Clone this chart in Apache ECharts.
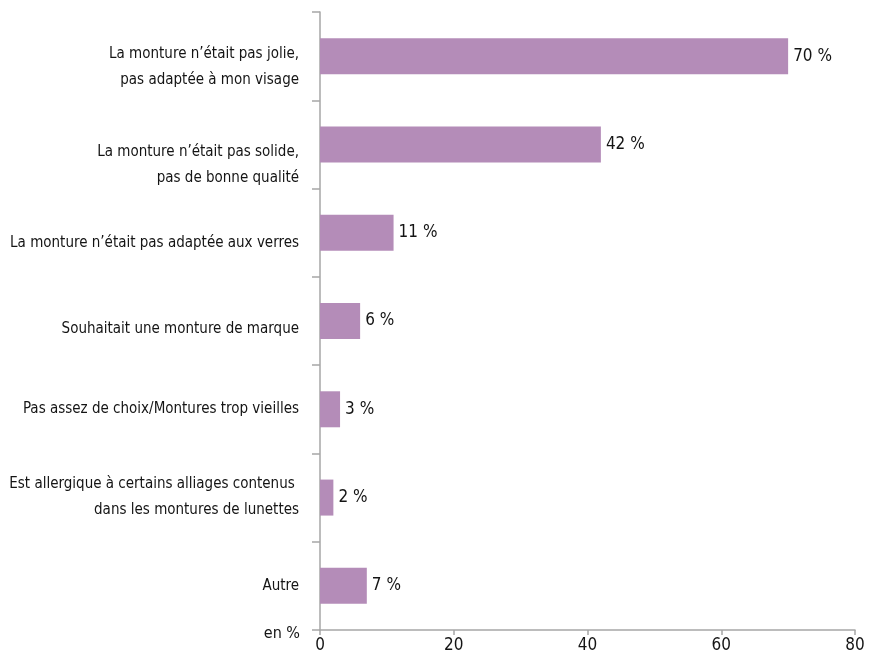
<!DOCTYPE html>
<html>
<head>
<meta charset="utf-8">
<script src="https://cdn.jsdelivr.net/npm/echarts@6/dist/echarts.min.js"></script>
<style>
html,body{margin:0;padding:0;background:#fff;}
#chart{width:877px;height:661px;}
</style>
</head>
<body>
<div id="chart"></div>
<script>
var categories = [
  "La monture n\u2019était pas jolie,\npas adaptée à mon visage",
  "La monture n\u2019était pas solide,\npas de bonne qualité",
  "La monture n\u2019était pas adaptée aux verres",
  "Souhaitait une monture de marque",
  "Pas assez de choix/Montures trop vieilles",
  "Est allergique à certains alliages contenus \ndans les montures de lunettes",
  "Autre"
];
var values = [70, 42, 11, 6, 3, 2, 7];
var xTicks = [0, 20, 40, 60, 80];
var axisName = "en %";

// label vertical nudges in px (style only, matching the reference's label placement)
var labelNudge = [11, 21, 10, 8, 0, 0, 0];

var FONT = "'Liberation Sans Narrow', 'DejaVu Sans Condensed', sans-serif";
var AXIS = '#a6a6a6';
var TXT = '#141414';

var rich = {t: {fontFamily: FONT, fontSize: 15, lineHeight: 26, color: TXT}};
labelNudge.forEach(function (n, i) {
  if (n > 0) rich['g' + i] = {lineHeight: 2 * n, height: 2 * n, fontSize: 2};
});

var chart = echarts.init(document.getElementById('chart'));
chart.setOption({
  animation: false,
  grid: {left: 320, right: 22, top: 12, bottom: 31, containLabel: false, outerBoundsMode: 'none'},
  xAxis: {
    type: 'value', min: xTicks[0], max: xTicks[xTicks.length - 1], interval: xTicks[1] - xTicks[0],
    axisLine: {show: true, lineStyle: {color: AXIS, width: 1.5}},
    axisTick: {show: true, length: 5, lineStyle: {color: AXIS, width: 1.5}},
    splitLine: {show: false},
    axisLabel: {color: TXT, fontFamily: FONT, fontSize: 17, margin: 7}
  },
  yAxis: {
    type: 'category', inverse: true, data: categories,
    name: '{g|}\n{t|' + axisName + '}', nameLocation: 'end', nameGap: 0,
    nameTextStyle: {color: TXT, fontFamily: FONT, fontSize: 16, align: 'right', verticalAlign: 'middle',
      padding: [0, 20, 0, 0],
      rich: {g: {lineHeight: 8, height: 8, fontSize: 2}, t: {fontFamily: FONT, fontSize: 16, lineHeight: 20, color: TXT}}},
    axisLine: {show: true, lineStyle: {color: AXIS, width: 1.5}},
    axisTick: {show: true, length: 8, lineStyle: {color: AXIS, width: 1.5}},
    axisLabel: {
      color: TXT, fontFamily: FONT, fontSize: 15, margin: 21, lineHeight: 26, align: 'right',
      formatter: function (v, i) {
        var body = v.split('\n').map(function (l) { return '{t|' + l + '}'; }).join('\n');
        return labelNudge[i] > 0 ? '{g' + i + '|}\n' + body : body;
      },
      rich: rich
    }
  },
  series: [{
    type: 'bar', data: values, barWidth: 36,
    itemStyle: {color: '#b48cb8'},
    label: {show: true, position: 'right', distance: 5, formatter: '{c} %', color: TXT, fontFamily: FONT, fontSize: 17}
  }]
});
</script>
</body>
</html>
